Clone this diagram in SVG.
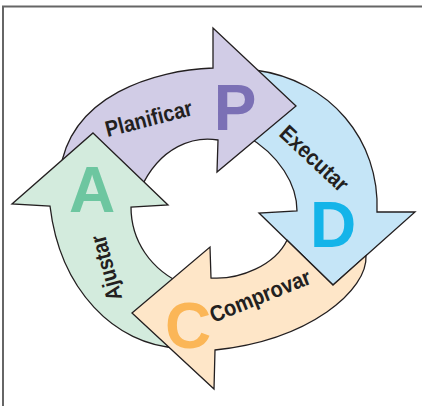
<svg xmlns="http://www.w3.org/2000/svg" width="422" height="406" viewBox="0 0 422 406">
<style>
.arrow{stroke:#231f20;stroke-width:1.3;stroke-linejoin:miter}
.big{font-family:"Liberation Sans",Arial,sans-serif;font-weight:bold;font-size:64px;text-anchor:middle}
.lbl{font-family:"Liberation Sans",Arial,sans-serif;font-weight:bold;font-size:22.5px;fill:#231f20;text-anchor:middle}
</style>
<rect width="422" height="406" fill="#ffffff"/>
<g id="frame" fill="none" stroke="#666666" stroke-width="2">
<path d="M3,406 V6.5 H422"/>
</g>
<g id="connectors"></g>
<g id="node-D">
<path class="arrow" fill="#c5e5f7" d="M377,212 L415,212 L333,285 L259,213 L297,211 C297,185 280,155 245,135 L255,70 C330,80 380,140 377,212 Z"/>
<text class="big" x="333" y="247" fill="#14b4e9">D</text>
<text class="lbl" transform="translate(309,164) rotate(43)" textLength="85" lengthAdjust="spacingAndGlyphs">Executar</text>
</g>
<g id="node-P">
<path class="arrow" fill="#d1cce6" d="M213,68 L213,28 L296,106 L217,172 L218,140 C195,136 160,145 140,190 L60,172 C70,95 155,70 213,68 Z"/>
<text class="big" x="235" y="130" fill="#7b70b5">P</text>
<text class="lbl" transform="translate(150.7,126) rotate(-14.4)" textLength="89" lengthAdjust="spacingAndGlyphs">Planificar</text>
</g>
<g id="node-A">
<path class="arrow" fill="#d3ebdd" d="M93,133 L168,205 L131,207 C131,240 150,270 185,285 L178,348 C115,345 60,290 50,206 L12,204 Z"/>
<text class="big" x="92" y="212" fill="#6dc6a0">A</text>
<text class="lbl" transform="translate(113.5,266) rotate(-105)" textLength="67" lengthAdjust="spacingAndGlyphs">Ajustar</text>
</g>
<g id="node-C">
<path class="arrow" fill="#fee6c8" d="M132,313 L210,247 L211,278 C240,280 275,265 287,240.2 L333,285 L366,255.6 C368,290 310,340 215,350 L214,389 Z"/>
<text class="big" x="188" y="348" fill="#fbb657">C</text>
<text class="lbl" transform="translate(263,303) rotate(-22)" textLength="107" lengthAdjust="spacingAndGlyphs">Comprovar</text>
</g>
</svg>
